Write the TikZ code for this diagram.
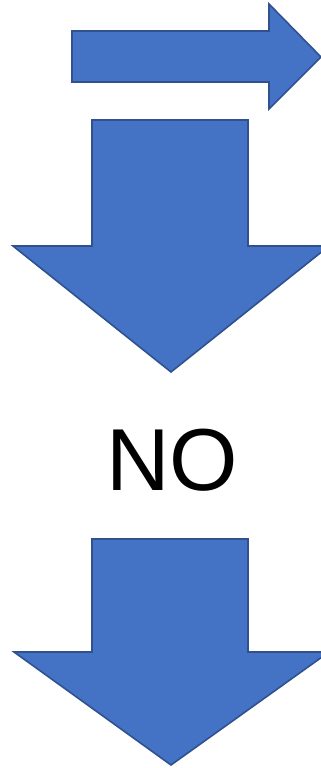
\documentclass[tikz,border=0pt]{standalone}
\usepackage{fontspec}
\setmainfont{Liberation Sans}
\usepackage{xcolor}
\usepackage{tikz}
\usetikzlibrary{positioning,calc}
\definecolor{aFill}{HTML}{4472C4}
\definecolor{aLine}{HTML}{2F528F}

\begin{document}
\begin{tikzpicture}[x=1pt,y=-1pt,
  blockarrow/.style={fill=aFill,draw=aLine,line width=1.6pt,line join=miter}]
\useasboundingbox (0,0) rectangle (321,768);
\clip (0,0) rectangle (321,768);

% right arrow
\draw[blockarrow] (72,31) -- (269,31) -- (269,4) -- (321,57) -- (269,109)
  -- (269,82) -- (72,82) -- cycle;

% first down arrow
\draw[blockarrow] (92,120) -- (248,120) -- (248,246) -- (329,246) -- (171,372)
  -- (13,246) -- (92,246) -- cycle;

\node[font=\fontsize{88}{88}\selectfont, inner sep=0pt] (no) at (172,460) {NO};

% second down arrow
\draw[blockarrow] (92,539) -- (248,539) -- (248,652) -- (329,652) -- (171,765)
  -- (14,652) -- (92,652) -- cycle;
\end{tikzpicture}
\end{document}
